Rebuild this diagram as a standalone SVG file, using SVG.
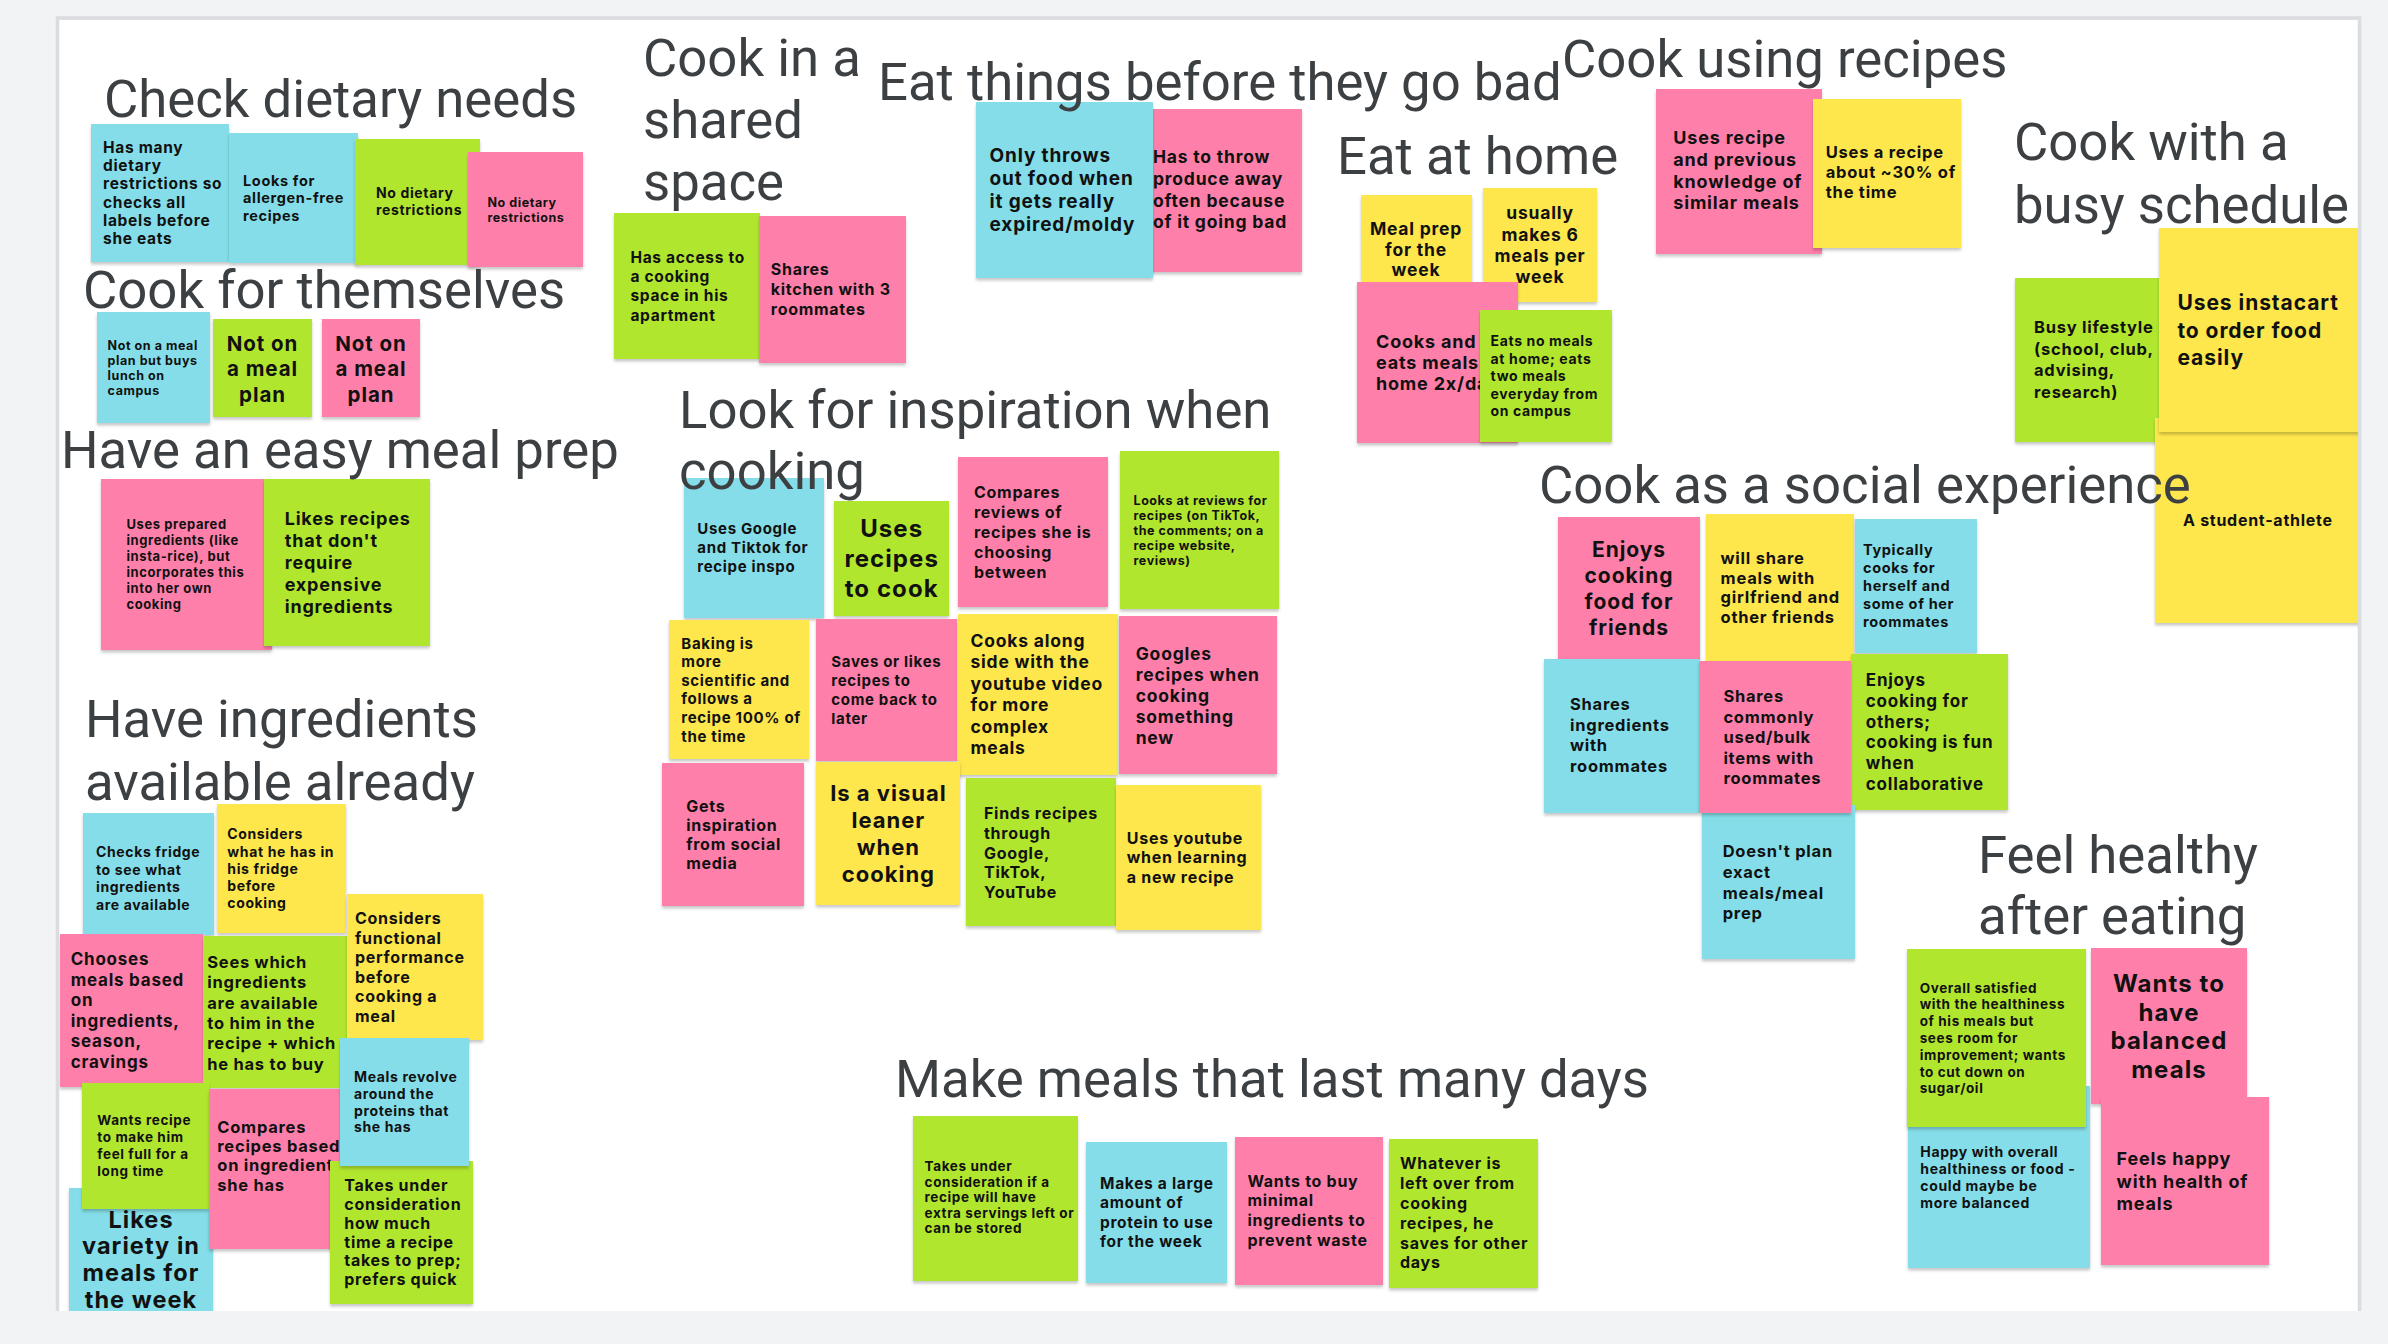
<svg xmlns="http://www.w3.org/2000/svg" width="2388" height="1344" viewBox="0 0 2388 1344">
<style>
  .title { font-family: Roboto, "Liberation Sans", sans-serif; font-weight: 400; font-size: 52.7px; fill: #3c4043; }
  .t { font-family: Inter, "Noto Sans", "Liberation Sans", sans-serif; font-weight: 700; fill: #111111; letter-spacing: 0.045em; }
  .mid { text-anchor: middle; }
  .c { fill: #84dde8; }
  .g { fill: #b1e62f; }
  .y { fill: #fee64e; }
  .p { fill: #fe80aa; }
  .note { filter: url(#sh); }
</style>
<defs>
  <filter id="sh" x="-5%" y="-5%" width="112%" height="115%">
    <feDropShadow dx="0" dy="2.5" stdDeviation="1.6" flood-color="#000000" flood-opacity="0.22"/>
  </filter>
  <clipPath id="boardClip"><rect x="59" y="20" width="2299" height="1291"/></clipPath>
</defs>

<!-- page and board -->
<rect x="0" y="0" width="2388" height="1344" fill="#f1f3f4"/>
<rect x="59" y="20" width="2299" height="1291" fill="#ffffff"/>
<path d="M57.5 1311 V18 H2359.5 V1311" fill="none" stroke="#dadce0" stroke-width="3.5"/>

<g id="notes" clip-path="url(#boardClip)">
  <!-- Check dietary needs -->
  <g id="n1"><rect class="note c" x="91" y="124" width="138" height="138"/>
    <text class="t" font-size="15.5" x="103" y="152.7"><tspan x="103">Has many</tspan><tspan x="103" dy="18.3">dietary</tspan><tspan x="103" dy="18.3">restrictions so</tspan><tspan x="103" dy="18.3">checks all</tspan><tspan x="103" dy="18.3">labels before</tspan><tspan x="103" dy="18.3">she eats</tspan></text></g>
  <g id="n2"><rect class="note c" x="229" y="133" width="129" height="130"/>
    <text class="t" font-size="14.5" x="243" y="185.7"><tspan x="243">Looks for</tspan><tspan x="243" dy="17.5">allergen-free</tspan><tspan x="243" dy="17.5">recipes</tspan></text></g>
  <g id="n3"><rect class="note g" x="355" y="139" width="125" height="126"/>
    <text class="t" font-size="14" x="376" y="197.7"><tspan x="376">No dietary</tspan><tspan x="376" dy="17.3">restrictions</tspan></text></g>
  <g id="n4"><rect class="note p" x="468" y="152" width="115" height="115"/>
    <text class="t" font-size="12.5" x="487.5" y="206.7"><tspan x="487.5">No dietary</tspan><tspan x="487.5" dy="15">restrictions</tspan></text></g>

  <!-- Cook for themselves -->
  <g id="n5"><rect class="note c" x="97" y="312" width="113" height="111"/>
    <text class="t" font-size="12.5" x="107.6" y="350"><tspan x="107.6">Not on a meal</tspan><tspan x="107.6" dy="15">plan but buys</tspan><tspan x="107.6" dy="15">lunch on</tspan><tspan x="107.6" dy="15">campus</tspan></text></g>
  <g id="n6"><rect class="note g" x="213" y="319" width="99" height="98"/>
    <text class="t mid" font-size="20.5" x="262.5" y="350.7"><tspan x="262.5">Not on</tspan><tspan x="262.5" dy="25.5">a meal</tspan><tspan x="262.5" dy="25.5">plan</tspan></text></g>
  <g id="n7"><rect class="note p" x="322" y="319" width="98" height="98"/>
    <text class="t mid" font-size="20.5" x="371" y="350.7"><tspan x="371">Not on</tspan><tspan x="371" dy="25.5">a meal</tspan><tspan x="371" dy="25.5">plan</tspan></text></g>

  <!-- Have an easy meal prep -->
  <g id="n8"><rect class="note p" x="101" y="479" width="171" height="171"/>
    <text class="t" font-size="13" x="126.5" y="529.3"><tspan x="126.5">Uses prepared</tspan><tspan x="126.5" dy="16">ingredients (like</tspan><tspan x="126.5" dy="16">insta-rice), but</tspan><tspan x="126.5" dy="16">incorporates this</tspan><tspan x="126.5" dy="16">into her own</tspan><tspan x="126.5" dy="16">cooking</tspan></text></g>
  <g id="n9"><rect class="note g" x="264" y="479" width="166" height="167"/>
    <text class="t" font-size="18" x="284.7" y="525"><tspan x="284.7">Likes recipes</tspan><tspan x="284.7" dy="21.9">that don't</tspan><tspan x="284.7" dy="21.9">require</tspan><tspan x="284.7" dy="21.9">expensive</tspan><tspan x="284.7" dy="21.9">ingredients</tspan></text></g>

  <!-- Have ingredients available already -->
  <g id="n10"><rect class="note c" x="83" y="813" width="131" height="122"/>
    <text class="t" font-size="14" x="96" y="857.3"><tspan x="96">Checks fridge</tspan><tspan x="96" dy="17.4">to see what</tspan><tspan x="96" dy="17.4">ingredients</tspan><tspan x="96" dy="17.4">are available</tspan></text></g>
  <g id="n11"><rect class="note y" x="217" y="804" width="129" height="129"/>
    <text class="t" font-size="14" x="227.3" y="839.4"><tspan x="227.3">Considers</tspan><tspan x="227.3" dy="17.25">what he has in</tspan><tspan x="227.3" dy="17.25">his fridge</tspan><tspan x="227.3" dy="17.25">before</tspan><tspan x="227.3" dy="17.25">cooking</tspan></text></g>
  <g id="n13"><rect class="note p" x="60" y="934" width="143" height="153"/>
    <text class="t" font-size="17" x="70.7" y="965.3"><tspan x="70.7">Chooses</tspan><tspan x="70.7" dy="20.5">meals based</tspan><tspan x="70.7" dy="20.5">on</tspan><tspan x="70.7" dy="20.5">ingredients,</tspan><tspan x="70.7" dy="20.5">season,</tspan><tspan x="70.7" dy="20.5">cravings</tspan></text></g>
  <g id="n14"><rect class="note g" x="203" y="936" width="145" height="152"/>
    <text class="t" font-size="16.5" x="207.3" y="967.8"><tspan x="207.3">Sees which</tspan><tspan x="207.3" dy="20.4">ingredients</tspan><tspan x="207.3" dy="20.4">are available</tspan><tspan x="207.3" dy="20.4">to him in the</tspan><tspan x="207.3" dy="20.4">recipe + which</tspan><tspan x="207.3" dy="20.4">he has to buy</tspan></text></g>
  <g id="n12"><rect class="note y" x="347" y="894" width="136" height="146"/>
    <text class="t" font-size="16" x="355" y="923.9"><tspan x="355">Considers</tspan><tspan x="355" dy="19.6">functional</tspan><tspan x="355" dy="19.6">performance</tspan><tspan x="355" dy="19.6">before</tspan><tspan x="355" dy="19.6">cooking a</tspan><tspan x="355" dy="19.6">meal</tspan></text></g>
  <g id="n19"><rect class="note c" x="69" y="1188" width="144" height="140"/>
    <text class="t mid" font-size="23.5" x="141" y="1227.8"><tspan x="141">Likes</tspan><tspan x="141" dy="26.6">variety in</tspan><tspan x="141" dy="26.6">meals for</tspan><tspan x="141" dy="26.6">the week</tspan></text></g>
  <g id="n16"><rect class="note g" x="82" y="1083" width="127" height="126"/>
    <text class="t" font-size="13.5" x="97.3" y="1125.3"><tspan x="97.3">Wants recipe</tspan><tspan x="97.3" dy="16.8">to make him</tspan><tspan x="97.3" dy="16.8">feel full for a</tspan><tspan x="97.3" dy="16.8">long time</tspan></text></g>
  <g id="n17"><rect class="note p" x="209" y="1089" width="135" height="160"/>
    <text class="t" font-size="16.5" x="217.3" y="1132.5"><tspan x="217.3">Compares</tspan><tspan x="217.3" dy="19.4">recipes based</tspan><tspan x="217.3" dy="19.4">on ingredient</tspan><tspan x="217.3" dy="19.4">she has</tspan></text></g>
  <g id="n18"><rect class="note g" x="330" y="1161" width="143" height="143"/>
    <text class="t" font-size="16" x="344.3" y="1190.8"><tspan x="344.3">Takes under</tspan><tspan x="344.3" dy="18.9">consideration</tspan><tspan x="344.3" dy="18.9">how much</tspan><tspan x="344.3" dy="18.9">time a recipe</tspan><tspan x="344.3" dy="18.9">takes to prep;</tspan><tspan x="344.3" dy="18.9">prefers quick</tspan></text></g>
  <g id="n15"><rect class="note c" x="340" y="1038" width="129" height="128"/>
    <text class="t" font-size="14" x="354" y="1082"><tspan x="354">Meals revolve</tspan><tspan x="354" dy="16.8">around the</tspan><tspan x="354" dy="16.8">proteins that</tspan><tspan x="354" dy="16.8">she has</tspan></text></g>

  <!-- Cook in a shared space -->
  <g id="n20"><rect class="note g" x="614" y="213" width="146" height="146"/>
    <text class="t" font-size="15.5" x="630.4" y="262.7"><tspan x="630.4">Has access to</tspan><tspan x="630.4" dy="19.3">a cooking</tspan><tspan x="630.4" dy="19.3">space in his</tspan><tspan x="630.4" dy="19.3">apartment</tspan></text></g>
  <g id="n21"><rect class="note p" x="759" y="216" width="147" height="147"/>
    <text class="t" font-size="16" x="770.8" y="275"><tspan x="770.8">Shares</tspan><tspan x="770.8" dy="20">kitchen with 3</tspan><tspan x="770.8" dy="20">roommates</tspan></text></g>

  <!-- Eat things before they go bad -->
  <g id="n23"><rect class="note p" x="1140" y="109" width="162" height="163"/>
    <text class="t" font-size="17.5" x="1153" y="163.3"><tspan x="1153">Has to throw</tspan><tspan x="1153" dy="21.7">produce away</tspan><tspan x="1153" dy="21.7">often because</tspan><tspan x="1153" dy="21.7">of it going bad</tspan></text></g>
  <g id="n22"><rect class="note c" x="976" y="102" width="177" height="176"/>
    <text class="t" font-size="19" x="989.5" y="161.7"><tspan x="989.5">Only throws</tspan><tspan x="989.5" dy="23.1">out food when</tspan><tspan x="989.5" dy="23.1">it gets really</tspan><tspan x="989.5" dy="23.1">expired/moldy</tspan></text></g>

  <!-- Cook using recipes -->
  <g id="n24"><rect class="note p" x="1656" y="89" width="166" height="165"/>
    <text class="t" font-size="18" x="1673.3" y="144"><tspan x="1673.3">Uses recipe</tspan><tspan x="1673.3" dy="21.8">and previous</tspan><tspan x="1673.3" dy="21.8">knowledge of</tspan><tspan x="1673.3" dy="21.8">similar meals</tspan></text></g>
  <g id="n25"><rect class="note y" x="1813" y="99" width="148" height="149"/>
    <text class="t" font-size="16.5" x="1825.8" y="158.3"><tspan x="1825.8">Uses a recipe</tspan><tspan x="1825.8" dy="20">about ~30% of</tspan><tspan x="1825.8" dy="20">the time</tspan></text></g>

  <!-- Eat at home -->
  <g id="n26"><rect class="note y" x="1361" y="195" width="111" height="110"/>
    <text class="t mid" font-size="17.5" x="1416" y="235"><tspan x="1416">Meal prep</tspan><tspan x="1416" dy="20.5">for the</tspan><tspan x="1416" dy="20.5">week</tspan></text></g>
  <g id="n27"><rect class="note y" x="1483" y="188" width="114" height="114"/>
    <text class="t mid" font-size="17.5" x="1540" y="219.3"><tspan x="1540">usually</tspan><tspan x="1540" dy="21.3">makes 6</tspan><tspan x="1540" dy="21.3">meals per</tspan><tspan x="1540" dy="21.3">week</tspan></text></g>
  <g id="n28"><rect class="note p" x="1357" y="282" width="161" height="161"/>
    <text class="t" font-size="18" x="1376" y="347.7"><tspan x="1376">Cooks and</tspan><tspan x="1376" dy="21.2">eats meals</tspan><tspan x="1376" dy="21.2">home 2x/day</tspan></text></g>
  <g id="n29"><rect class="note g" x="1480" y="310" width="132" height="132"/>
    <text class="t" font-size="14" x="1490.6" y="346"><tspan x="1490.6">Eats no meals</tspan><tspan x="1490.6" dy="17.5">at home; eats</tspan><tspan x="1490.6" dy="17.5">two meals</tspan><tspan x="1490.6" dy="17.5">everyday from</tspan><tspan x="1490.6" dy="17.5">on campus</tspan></text></g>

  <!-- Cook with a busy schedule -->
  <g id="n30"><rect class="note g" x="2015" y="278" width="150" height="164"/>
    <text class="t" font-size="16.5" x="2034" y="333.3"><tspan x="2034">Busy lifestyle</tspan><tspan x="2034" dy="21.4">(school, club,</tspan><tspan x="2034" dy="21.4">advising,</tspan><tspan x="2034" dy="21.4">research)</tspan></text></g>
  <g id="n32"><rect class="note y" x="2155" y="418" width="210" height="205"/>
    <text class="t" font-size="16" x="2183" y="526">A student-athlete</text></g>
  <g id="n31"><rect class="note y" x="2159" y="228" width="205" height="204"/>
    <text class="t" font-size="21" x="2177.4" y="310"><tspan x="2177.4">Uses instacart</tspan><tspan x="2177.4" dy="27.5">to order food</tspan><tspan x="2177.4" dy="27.5">easily</tspan></text></g>

  <!-- Look for inspiration when cooking -->
  <g id="n33"><rect class="note c" x="684" y="478" width="140" height="140"/>
    <text class="t" font-size="15" x="697.3" y="533.6"><tspan x="697.3">Uses Google</tspan><tspan x="697.3" dy="19.1">and Tiktok for</tspan><tspan x="697.3" dy="19.1">recipe inspo</tspan></text></g>
  <g id="n34"><rect class="note g" x="834" y="501" width="115" height="115"/>
    <text class="t mid" font-size="24" x="891.7" y="537"><tspan x="891.7">Uses</tspan><tspan x="891.7" dy="29.9">recipes</tspan><tspan x="891.7" dy="29.9">to cook</tspan></text></g>
  <g id="n35"><rect class="note p" x="958" y="457" width="150" height="150"/>
    <text class="t" font-size="16" x="974" y="497.9"><tspan x="974">Compares</tspan><tspan x="974" dy="19.9">reviews of</tspan><tspan x="974" dy="19.9">recipes she is</tspan><tspan x="974" dy="19.9">choosing</tspan><tspan x="974" dy="19.9">between</tspan></text></g>
  <g id="n36"><rect class="note g" x="1120" y="451" width="159" height="158"/>
    <text class="t" font-size="12.5" x="1133.5" y="505"><tspan x="1133.5">Looks at reviews for</tspan><tspan x="1133.5" dy="14.9">recipes (on TikTok,</tspan><tspan x="1133.5" dy="14.9">the comments; on a</tspan><tspan x="1133.5" dy="14.9">recipe website,</tspan><tspan x="1133.5" dy="14.9">reviews)</tspan></text></g>
  <g id="n37"><rect class="note y" x="669" y="620" width="140" height="139"/>
    <text class="t" font-size="15" x="681.3" y="648.6"><tspan x="681.3">Baking is</tspan><tspan x="681.3" dy="18.6">more</tspan><tspan x="681.3" dy="18.6">scientific and</tspan><tspan x="681.3" dy="18.6">follows a</tspan><tspan x="681.3" dy="18.6">recipe 100% of</tspan><tspan x="681.3" dy="18.6">the time</tspan></text></g>
  <g id="n38"><rect class="note p" x="816" y="619" width="141" height="142"/>
    <text class="t" font-size="15" x="831.3" y="666.8"><tspan x="831.3">Saves or likes</tspan><tspan x="831.3" dy="18.9">recipes to</tspan><tspan x="831.3" dy="18.9">come back to</tspan><tspan x="831.3" dy="18.9">later</tspan></text></g>
  <g id="n39"><rect class="note y" x="958" y="614" width="160" height="161"/>
    <text class="t" font-size="17.5" x="970.5" y="647"><tspan x="970.5">Cooks along</tspan><tspan x="970.5" dy="21.45">side with the</tspan><tspan x="970.5" dy="21.45">youtube video</tspan><tspan x="970.5" dy="21.45">for more</tspan><tspan x="970.5" dy="21.45">complex</tspan><tspan x="970.5" dy="21.45">meals</tspan></text></g>
  <g id="n40"><rect class="note p" x="1119" y="616" width="158" height="158"/>
    <text class="t" font-size="17.5" x="1135.7" y="660.4"><tspan x="1135.7">Googles</tspan><tspan x="1135.7" dy="21">recipes when</tspan><tspan x="1135.7" dy="21">cooking</tspan><tspan x="1135.7" dy="21">something</tspan><tspan x="1135.7" dy="21">new</tspan></text></g>
  <g id="n41"><rect class="note p" x="662" y="763" width="142" height="143"/>
    <text class="t" font-size="16" x="686.2" y="812"><tspan x="686.2">Gets</tspan><tspan x="686.2" dy="19.1">inspiration</tspan><tspan x="686.2" dy="19.1">from social</tspan><tspan x="686.2" dy="19.1">media</tspan></text></g>
  <g id="n42"><rect class="note y" x="816" y="762" width="144" height="143"/>
    <text class="t mid" font-size="22" x="888.4" y="801.4"><tspan x="888.4">Is a visual</tspan><tspan x="888.4" dy="26.8">leaner</tspan><tspan x="888.4" dy="26.8">when</tspan><tspan x="888.4" dy="26.8">cooking</tspan></text></g>
  <g id="n43"><rect class="note g" x="966" y="778" width="150" height="148"/>
    <text class="t" font-size="16" x="984" y="819.3"><tspan x="984">Finds recipes</tspan><tspan x="984" dy="19.6">through</tspan><tspan x="984" dy="19.6">Google,</tspan><tspan x="984" dy="19.6">TikTok,</tspan><tspan x="984" dy="19.6">YouTube</tspan></text></g>
  <g id="n44"><rect class="note y" x="1116" y="785" width="145" height="145"/>
    <text class="t" font-size="16" x="1126.8" y="843.6"><tspan x="1126.8">Uses youtube</tspan><tspan x="1126.8" dy="19.45">when learning</tspan><tspan x="1126.8" dy="19.45">a new recipe</tspan></text></g>

  <!-- Cook as a social experience -->
  <g id="n45"><rect class="note p" x="1558" y="517" width="142" height="143"/>
    <text class="t mid" font-size="21" x="1629" y="556.7"><tspan x="1629">Enjoys</tspan><tspan x="1629" dy="26.1">cooking</tspan><tspan x="1629" dy="26.1">food for</tspan><tspan x="1629" dy="26.1">friends</tspan></text></g>
  <g id="n46"><rect class="note y" x="1706" y="514" width="148" height="148"/>
    <text class="t" font-size="16.5" x="1720.6" y="564"><tspan x="1720.6">will share</tspan><tspan x="1720.6" dy="19.6">meals with</tspan><tspan x="1720.6" dy="19.6">girlfriend and</tspan><tspan x="1720.6" dy="19.6">other friends</tspan></text></g>
  <g id="n47"><rect class="note c" x="1855" y="519" width="122" height="134"/>
    <text class="t" font-size="14.5" x="1863" y="555"><tspan x="1863">Typically</tspan><tspan x="1863" dy="18.1">cooks for</tspan><tspan x="1863" dy="18.1">herself and</tspan><tspan x="1863" dy="18.1">some of her</tspan><tspan x="1863" dy="18.1">roommates</tspan></text></g>
  <g id="n48"><rect class="note c" x="1544" y="659" width="155" height="154"/>
    <text class="t" font-size="16.5" x="1570" y="710"><tspan x="1570">Shares</tspan><tspan x="1570" dy="20.6">ingredients</tspan><tspan x="1570" dy="20.6">with</tspan><tspan x="1570" dy="20.6">roommates</tspan></text></g>
  <g id="n50"><rect class="note g" x="1851" y="654" width="157" height="156"/>
    <text class="t" font-size="17" x="1865.8" y="686"><tspan x="1865.8">Enjoys</tspan><tspan x="1865.8" dy="20.8">cooking for</tspan><tspan x="1865.8" dy="20.8">others;</tspan><tspan x="1865.8" dy="20.8">cooking is fun</tspan><tspan x="1865.8" dy="20.8">when</tspan><tspan x="1865.8" dy="20.8">collaborative</tspan></text></g>
  <g id="n51"><rect class="note c" x="1702" y="805" width="153" height="154"/>
    <text class="t" font-size="16.5" x="1722.7" y="857.3"><tspan x="1722.7">Doesn't plan</tspan><tspan x="1722.7" dy="20.6">exact</tspan><tspan x="1722.7" dy="20.6">meals/meal</tspan><tspan x="1722.7" dy="20.6">prep</tspan></text></g>
  <g id="n49"><rect class="note p" x="1699" y="661" width="152" height="152"/>
    <text class="t" font-size="16.5" x="1723.4" y="702.3"><tspan x="1723.4">Shares</tspan><tspan x="1723.4" dy="20.4">commonly</tspan><tspan x="1723.4" dy="20.4">used/bulk</tspan><tspan x="1723.4" dy="20.4">items with</tspan><tspan x="1723.4" dy="20.4">roommates</tspan></text></g>

  <!-- Feel healthy after eating -->
  <g id="n54"><rect class="note c" x="1908" y="1086" width="182" height="182"/>
    <text class="t" font-size="14" x="1920.3" y="1156.7"><tspan x="1920.3">Happy with overall</tspan><tspan x="1920.3" dy="17">healthiness or food -</tspan><tspan x="1920.3" dy="17">could maybe be</tspan><tspan x="1920.3" dy="17">more balanced</tspan></text></g>
  <g id="n52"><rect class="note g" x="1907" y="949" width="179" height="178"/>
    <text class="t" font-size="13.5" x="1919.7" y="992.6"><tspan x="1919.7">Overall satisfied</tspan><tspan x="1919.7" dy="16.8">with the healthiness</tspan><tspan x="1919.7" dy="16.8">of his meals but</tspan><tspan x="1919.7" dy="16.8">sees room for</tspan><tspan x="1919.7" dy="16.8">improvement; wants</tspan><tspan x="1919.7" dy="16.8">to cut down on</tspan><tspan x="1919.7" dy="16.8">sugar/oil</tspan></text></g>
  <g id="n53"><rect class="note p" x="2091" y="948" width="156" height="156"/>
    <text class="t mid" font-size="24" x="2169" y="991.9"><tspan x="2169">Wants to</tspan><tspan x="2169" dy="28.6">have</tspan><tspan x="2169" dy="28.6">balanced</tspan><tspan x="2169" dy="28.6">meals</tspan></text></g>
  <g id="n55"><rect class="note p" x="2101" y="1097" width="168" height="168"/>
    <text class="t" font-size="18" x="2116.6" y="1165"><tspan x="2116.6">Feels happy</tspan><tspan x="2116.6" dy="22.5">with health of</tspan><tspan x="2116.6" dy="22.5">meals</tspan></text></g>

  <!-- Make meals that last many days -->
  <g id="n56"><rect class="note g" x="913" y="1116" width="165" height="165"/>
    <text class="t" font-size="13.5" x="924.6" y="1171"><tspan x="924.6">Takes under</tspan><tspan x="924.6" dy="15.6">consideration if a</tspan><tspan x="924.6" dy="15.6">recipe will have</tspan><tspan x="924.6" dy="15.6">extra servings left or</tspan><tspan x="924.6" dy="15.6">can be stored</tspan></text></g>
  <g id="n57"><rect class="note c" x="1086" y="1142" width="141" height="141"/>
    <text class="t" font-size="15.5" x="1100" y="1189.3"><tspan x="1100">Makes a large</tspan><tspan x="1100" dy="19.1">amount of</tspan><tspan x="1100" dy="19.1">protein to use</tspan><tspan x="1100" dy="19.1">for the week</tspan></text></g>
  <g id="n58"><rect class="note p" x="1235" y="1137" width="148" height="148"/>
    <text class="t" font-size="16" x="1247.4" y="1186.7"><tspan x="1247.4">Wants to buy</tspan><tspan x="1247.4" dy="19.7">minimal</tspan><tspan x="1247.4" dy="19.7">ingredients to</tspan><tspan x="1247.4" dy="19.7">prevent waste</tspan></text></g>
  <g id="n59"><rect class="note g" x="1389" y="1139" width="149" height="149"/>
    <text class="t" font-size="16" x="1400" y="1169.3"><tspan x="1400">Whatever is</tspan><tspan x="1400" dy="19.8">left over from</tspan><tspan x="1400" dy="19.8">cooking</tspan><tspan x="1400" dy="19.8">recipes, he</tspan><tspan x="1400" dy="19.8">saves for other</tspan><tspan x="1400" dy="19.8">days</tspan></text></g>
</g>

<!-- cluster headings, drawn over the notes -->
<g id="titles">
  <g id="t-dietary"><text class="title" x="104" y="117">Check dietary needs</text></g>
  <g id="t-themselves"><text class="title" x="83" y="308">Cook for themselves</text></g>
  <g id="t-easy"><text class="title" x="61" y="468">Have an easy meal prep</text></g>
  <g id="t-ingredients"><text class="title" x="85" y="737"><tspan x="85">Have ingredients</tspan><tspan x="85" dy="63">available already</tspan></text></g>
  <g id="t-shared"><text class="title" x="643" y="76"><tspan x="643">Cook in a</tspan><tspan x="643" dy="62">shared</tspan><tspan x="643" dy="62">space</tspan></text></g>
  <g id="t-bad"><text class="title" x="878" y="100">Eat things before they go bad</text></g>
  <g id="t-recipes"><text class="title" x="1562" y="77">Cook using recipes</text></g>
  <g id="t-home"><text class="title" x="1337" y="174">Eat at home</text></g>
  <g id="t-busy"><text class="title" x="2014" y="160"><tspan x="2014">Cook with a</tspan><tspan x="2014" dy="63">busy schedule</tspan></text></g>
  <g id="t-inspiration"><text class="title" x="679" y="428"><tspan x="679">Look for inspiration when</tspan><tspan x="679" dy="61">cooking</tspan></text></g>
  <g id="t-social"><text class="title" x="1539" y="503">Cook as a social experience</text></g>
  <g id="t-healthy"><text class="title" x="1978" y="873"><tspan x="1978">Feel healthy</tspan><tspan x="1978" dy="61">after eating</tspan></text></g>
  <g id="t-last"><text class="title" x="895" y="1097">Make meals that last many days</text></g>
</g>

<g id="connectors"/>
</svg>
